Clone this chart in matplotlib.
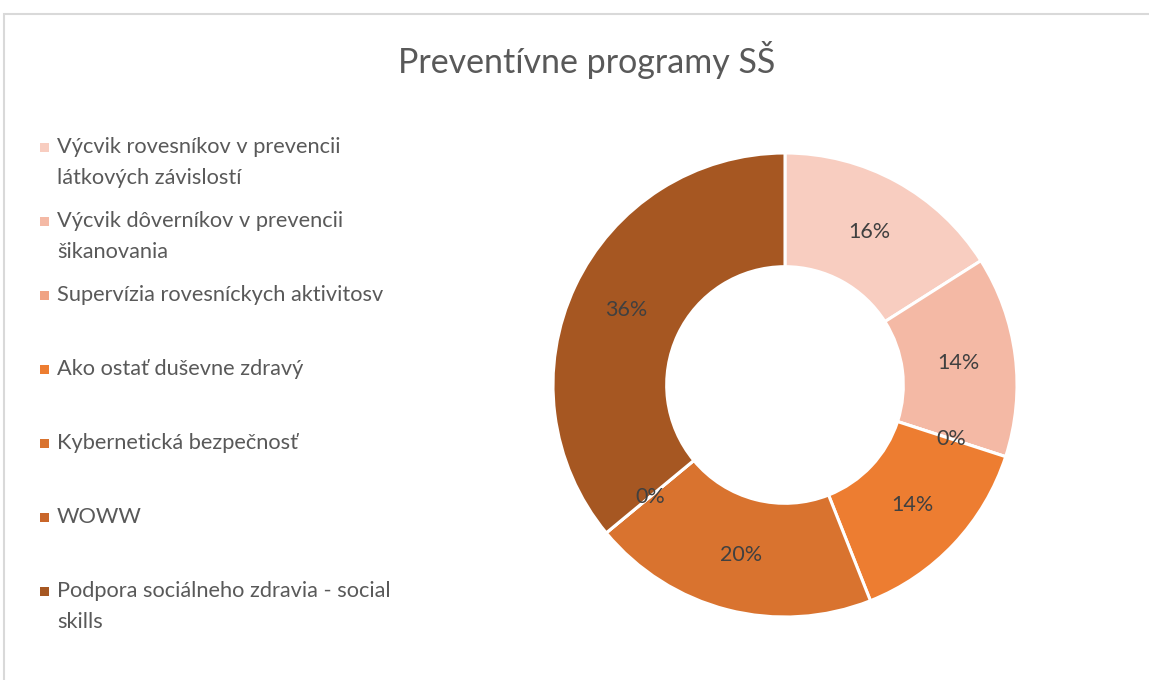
import matplotlib
matplotlib.use("Agg")
import matplotlib.pyplot as plt
from matplotlib.patches import Rectangle

plt.rcParams['font.family'] = ['Lato', 'DejaVu Sans']

# data
labels = [
    "Výcvik rovesníkov v prevencii\nlátkových závislostí",
    "Výcvik dôverníkov v prevencii\nšikanovania",
    "Supervízia rovesníckych aktivitosv",
    "Ako ostať duševne zdravý",
    "Kybernetická bezpečnosť",
    "WOWW",
    "Podpora sociálneho zdravia - social\nskills",
]
values = [16, 14, 0, 14, 20, 0, 36]
colors = ["#F8CDC0", "#F4B9A5", "#F0A384", "#ED7D31", "#D9732F", "#C9662A", "#A65722"]
title = "Preventívne programy SŠ"

W, H = 1149, 680
txt_col = "#595959"
fig = plt.figure(figsize=(W / 100, H / 100), dpi=100)

# chart border (clipped on right/bottom like the screenshot)
fig.patches.append(Rectangle((4 / W, -0.1), 1.2, 1 - 14 / H + 0.1, transform=fig.transFigure,
                             fill=False, edgecolor="#D9D9D9", linewidth=1.5))

fig.text(587 / W, 1 - 60 / H, title, ha="center", va="center", fontsize=24.5, color=txt_col)

# donut
cx, cy, r = 785, 385, 232
ax = fig.add_axes([(cx - r) / W, 1 - (cy + r) / H, 2 * r / W, 2 * r / H])
ax.pie(values, colors=colors, startangle=90, counterclock=False, radius=1,
       wedgeprops=dict(width=0.49, edgecolor="white", linewidth=2.2),
       autopct=lambda p: f"{p:.0f}%", pctdistance=0.755,
       textprops=dict(color="#404040", fontsize=15.5))
ax.set_xlim(-1, 1)
ax.set_ylim(-1, 1)
ax.set_aspect("equal")
ax.axis("off")

# legend
y0, step = 148, 74
for i, (lab, col) in enumerate(zip(labels, colors)):
    y = y0 + i * step
    fig.patches.append(Rectangle((40 / W, 1 - (y + 4) / H), 9 / W, 9 / H,
                                 transform=fig.transFigure, facecolor=col, edgecolor="none"))
    fig.text(57 / W, 1 - (y - 11) / H, lab, ha="left", va="top", fontsize=15.7,
             color=txt_col, linespacing=1.66)

fig.savefig("out.png", dpi=100, facecolor="white")
